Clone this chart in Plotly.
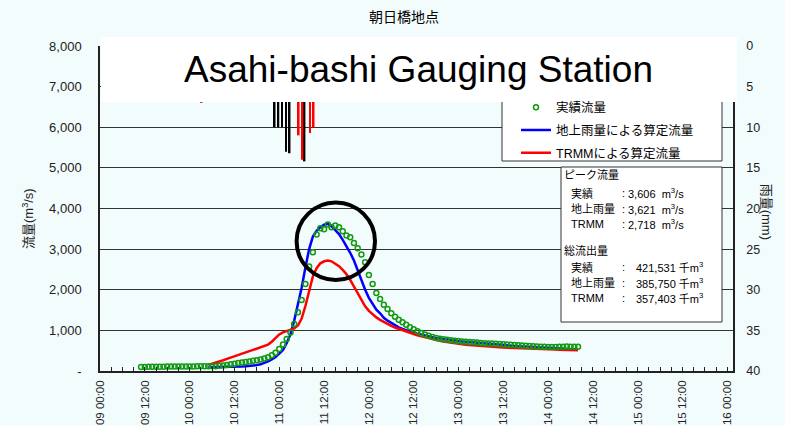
import pandas as pd
import plotly.graph_objects as go

# ---------------- data ----------------
title_text = "朝日橋地点"
station_text = "Asahi-bashi Gauging Station"

x_tick_labels = ["09 00:00", "09 12:00", "10 00:00", "10 12:00", "11 00:00",
                 "11 12:00", "12 00:00", "12 12:00", "13 00:00", "13 12:00",
                 "14 00:00", "14 12:00", "15 00:00", "15 12:00", "16 00:00"]
flow_tick_values = [0, 1000, 2000, 3000, 4000, 5000, 6000, 7000, 8000]
flow_tick_labels = ["-", "1,000", "2,000", "3,000", "4,000", "5,000", "6,000", "7,000", "8,000"]
rain_tick_values = [0, 5, 10, 15, 20, 25, 30, 35, 40]

# observed discharge, hourly from 09 11:00
obs_start = "2018-07-09 11:00"
obs_flow = [100, 100, 102, 104, 105, 106, 107, 108, 110, 110, 111, 112, 112, 113, 113, 114, 114, 115, 116, 118, 120,
            128, 138, 150, 165, 180, 195, 210, 222, 236, 250, 265, 285, 305, 340, 390, 450, 540, 650,
            786, 950, 1156, 1444, 1748, 2142, 2570, 2923, 3358, 3514,
            3490, 3606, 3539, 3580, 3539, 3440, 3333, 3292, 3152, 3021,
            2865, 2676, 2364, 2142, 1920, 1772, 1633, 1526, 1419, 1337,
            1263, 1197, 1140, 1074, 1025, 976, 934, 901, 869, 836,
            811, 795, 780, 768, 757, 747, 738, 729, 721, 713,
            706, 699, 692, 686, 680, 674, 668, 662, 656, 650,
            645, 640, 634, 628, 622, 616, 610, 604, 598, 594,
            590, 588, 588, 594, 600, 602, 600, 598, 597]

# computed discharges, hourly from 10 05:00
calc_start = "2018-07-10 05:00"
ground_flow = [95, 95, 96, 97, 98, 100, 102, 105, 108, 112, 116, 120,
               130, 145, 165, 195, 235, 285, 345, 430, 520, 690,
               900, 1240, 1620, 2050, 2550, 3000, 3310, 3450, 3540, 3600,
               3621, 3560, 3470, 3370, 3230, 3080, 2910, 2720, 2470, 2230,
               2000, 1800, 1640, 1510, 1420, 1310, 1240, 1180, 1125, 1075,
               1035, 1000, 970, 945, 920, 895, 870, 850, 832, 815,
               800, 786, 772, 760, 748, 737, 727, 717, 708, 700,
               692, 684, 676, 668, 660, 652, 645, 638, 631, 624,
               617, 610, 604, 598, 592, 586, 580, 575, 570, 565,
               560, 555, 550, 546, 542, 538, 534, 530]
trmm_flow = [150, 175, 200, 230, 265, 300, 335, 370, 400, 430, 460, 490,
             520, 550, 580, 610, 650, 720, 810, 900, 950, 985,
             1010, 1050, 1120, 1290, 1600, 2000, 2330, 2530, 2650, 2700,
             2718, 2700, 2650, 2580, 2490, 2380, 2240, 2080, 1900, 1730,
             1590, 1480, 1390, 1320, 1260, 1205, 1155, 1110, 1070, 1035,
             1000, 968, 938, 910, 880, 855, 830, 805, 780, 760,
             742, 725, 708, 693, 680, 668, 657, 647, 638, 630,
             622, 615, 608, 601, 595, 589, 583, 578, 573, 568,
             564, 560, 556, 552, 548, 545, 542, 539, 536, 533,
             530, 527, 524, 521, 518, 515, 513, 510]

# hourly rainfall (mm) from 10 00:00
rain_start = "2018-07-10 00:00"
ground_rain = [0, 0, 0, 1, 1, 1, 2, 1, 1, 0, 0, 1, 1, 2, 2, 1,
               2, 2, 3, 3, 4, 5, 6,
               10, 10, 10, 13, 13.2,
               5, 6, 6, 14.2, 5, 3, 2, 1, 0]
trmm_rain = [0, 1, 3, 7.0, 4, 2, 1, 1, 2, 2, 2, 3, 3, 3, 2, 2,
             2, 3, 3, 3, 2, 2, 3,
             3, 4, 4, 5, 5,
             6, 11, 14, 6, 10.7, 10, 5, 2, 1]

peak_rows = [("実績", "3,606"), ("地上雨量", "3,621"), ("TRMM", "2,718")]
volume_rows = [("実績", "421,531"), ("地上雨量", "385,750"), ("TRMM", "357,403")]

# ---------------- geometry / style ----------------
W, H = 785, 426
ML, MR, MT, MB = 100, 52, 46, 55
PW, PH = W - ML - MR, H - MT - MB
FONT = "Liberation Sans, Arial, Noto Sans CJK JP, sans-serif"
BG = "#F3FCFD"
INK = "#222222"


def px(x):
    return (x - ML) / PW


def py(y):
    return (MT + PH - y) / PH


obs_time = pd.date_range(obs_start, periods=len(obs_flow), freq="h")
calc_time = pd.date_range(calc_start, periods=len(ground_flow), freq="h")
rain_time = pd.date_range(rain_start, periods=len(ground_rain), freq="h")

major_ticks = pd.date_range("2018-07-09 00:00", periods=len(x_tick_labels), freq="12h")
minor_ticks = pd.date_range("2018-07-09 00:00", "2018-07-16 00:00", freq="3h")

fig = go.Figure()
fig.add_trace(go.Bar(x=rain_time, y=ground_rain, yaxis="y2", name="地上雨量",
                     marker=dict(color="black", line=dict(width=0)), showlegend=False))
fig.add_trace(go.Bar(x=rain_time, y=trmm_rain, yaxis="y2", name="TRMM雨量",
                     marker=dict(color="#FF0000", line=dict(width=0)), showlegend=False))
fig.add_trace(go.Scatter(x=calc_time, y=ground_flow, mode="lines", name="地上雨量による算定流量",
                         line=dict(color="#0000FF", width=2.5), legendrank=2, legendgroup="b"))
fig.add_trace(go.Scatter(x=calc_time, y=trmm_flow, mode="lines", name="TRMMによる算定流量",
                         line=dict(color="#FF0000", width=2.5), legendrank=3, legendgroup="c"))
fig.add_trace(go.Scatter(x=obs_time, y=obs_flow, mode="markers", name="実績流量",
                         marker=dict(symbol="circle-open", size=5, color="#129A12", line=dict(width=1.5)),
                         legendrank=1, legendgroup="a"))

shapes = [
    dict(type="rect", xref="paper", yref="paper", x0=px(502), x1=px(722), y0=py(161), y1=py(98),
         fillcolor="white", line=dict(color="#333333", width=1), layer="above"),
    dict(type="rect", xref="paper", yref="paper", x0=px(561), x1=px(722), y0=py(322), y1=py(167),
         fillcolor="white", line=dict(color="#333333", width=1), layer="above"),
    dict(type="rect", xref="paper", yref="paper", x0=px(101), x1=px(737), y0=py(102), y1=py(37),
         fillcolor="white", line=dict(width=0), layer="above"),
    dict(type="circle", xref="paper", yref="paper", x0=px(296.6), x1=px(375), y0=py(280), y1=py(202.6),
         fillcolor="rgba(0,0,0,0)", line=dict(color="black", width=4), layer="above"),
]

ann = [
    dict(x=px(418.3), y=py(69.5), text=station_text, font=dict(size=37, color="black", family=FONT),
         xanchor="center", yanchor="middle"),
    dict(x=px(28), y=py(219), text="流量(m<sup>3</sup>/s)", textangle=-90,
         font=dict(size=13, color=INK, family=FONT), xanchor="center", yanchor="middle"),
    dict(x=px(766), y=py(211.7), text="雨量(mm)", textangle=90,
         font=dict(size=13, color=INK, family=FONT), xanchor="center", yanchor="middle"),
    dict(x=px(562), y=py(175), text="ピーク流量", font=dict(size=11, color="black", family=FONT),
         xanchor="left", yanchor="middle"),
    dict(x=px(562), y=py(250.7), text="総流出量", font=dict(size=11, color="black", family=FONT),
         xanchor="left", yanchor="middle"),
]
for (lab, val), yy in zip(peak_rows, [193.3, 209, 224.3]):
    ann.append(dict(x=px(569), y=py(yy), text=lab, font=dict(size=11, color="black", family=FONT),
                    xanchor="left", yanchor="middle"))
    ann.append(dict(x=px(619.5), y=py(yy), text=":", font=dict(size=11, color="black", family=FONT),
                    xanchor="left", yanchor="middle"))
    ann.append(dict(x=px(626), y=py(yy), text=val + "&nbsp; m<sup>3</sup>/s",
                    font=dict(size=11, color="black", family=FONT), xanchor="left", yanchor="middle"))
for (lab, val), yy in zip(volume_rows, [267.3, 282.7, 298.3]):
    ann.append(dict(x=px(569), y=py(yy), text=lab, font=dict(size=11, color="black", family=FONT),
                    xanchor="left", yanchor="middle"))
    ann.append(dict(x=px(619.5), y=py(yy), text=":", font=dict(size=11, color="black", family=FONT),
                    xanchor="left", yanchor="middle"))
    ann.append(dict(x=px(634), y=py(yy), text=val + " 千m<sup>3</sup>",
                    font=dict(size=11, color="black", family=FONT), xanchor="left", yanchor="middle"))
for a in ann:
    a.update(xref="paper", yref="paper", showarrow=False)

fig.update_layout(
    width=W, height=H,
    margin=dict(l=ML, r=MR, t=MT, b=MB, pad=0, autoexpand=False),
    paper_bgcolor=BG, plot_bgcolor=BG,
    font=dict(family=FONT, color=INK),
    title=dict(text=title_text, x=404 / W, y=1 - 17 / H, xref="container", yref="container",
               xanchor="center", yanchor="middle", font=dict(size=14, color="black", family=FONT)),
    barmode="group", bargap=0.12,
    showlegend=True,
    legend=dict(x=px(516), y=py(92.5), xanchor="left", yanchor="top", bgcolor="rgba(0,0,0,0)",
                borderwidth=0, font=dict(size=12.5, color="black", family=FONT),
                traceorder="grouped", tracegroupgap=3.5),
    xaxis=dict(type="date", range=["2018-07-09 00:00", "2018-07-16 01:30"], automargin=False,
               tickmode="array", tickvals=list(major_ticks), ticktext=x_tick_labels,
               tickangle=-90, ticks="inside", ticklen=4, tickcolor=INK, tickwidth=1,
               minor=dict(tickmode="array", tickvals=list(minor_ticks), ticks="inside", ticklen=4,
                          tickcolor=INK, tickwidth=1, showgrid=False),
               showline=True, linecolor=INK, linewidth=1.5, showgrid=False, zeroline=False,
               tickfont=dict(size=11.5, color=INK, family=FONT), ticklabelstandoff=3),
    yaxis=dict(range=[0, 8000], tickmode="array", tickvals=flow_tick_values, ticktext=flow_tick_labels,
               automargin=False,
               showgrid=True, gridcolor="#333333", gridwidth=1, zeroline=False,
               showline=True, linecolor=INK, linewidth=1.5, ticks="",
               tickfont=dict(size=13, color=INK, family=FONT), ticklabelstandoff=14),
    yaxis2=dict(range=[40, 0], overlaying="y", side="right", tickmode="array", tickvals=rain_tick_values,
                automargin=False,
                showgrid=False, zeroline=False, showline=True, linecolor=INK, linewidth=1.5, ticks="",
                tickfont=dict(size=12.5, color=INK, family=FONT), ticklabelstandoff=9),
    shapes=shapes,
    annotations=ann,
)

fig.write_html("out.html", config={"displayModeBar": False},
               post_script="document.body.style.margin='0';document.body.style.background='%s';" % BG)
